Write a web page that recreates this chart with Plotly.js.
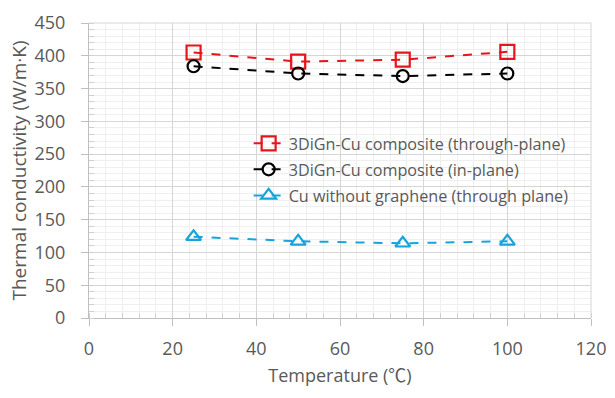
<!DOCTYPE html>
<html><head><meta charset="utf-8">
<script src="https://cdn.plot.ly/plotly-3.0.1.min.js"></script>
<style>body{margin:0;background:#fff}#c{width:615px;height:398px}</style>
</head><body><div id="c"></div>
<script>
const temps = [25, 50, 75, 100];
const throughPlane = [405, 391, 394, 406];
const inPlane = [384, 373, 369, 373];
const cuNoGraphene = [124, 117, 114, 117];
const names = ["3DiGn-Cu composite (through-plane)", "3DiGn-Cu composite (in-plane)", "Cu without graphene (through plane)"];

const font = "'Open Sans', 'Noto Sans CJK KR', sans-serif";
function tr(y, name, color, symbol, size, g) {
  return {x: temps, y: y, name: name, type: 'scatter', mode: 'lines+markers', legendgroup: g,
    line: {color: color, width: 2, dash: 'dash'},
    marker: {symbol: symbol, size: size, color: color, line: {color: color, width: 2.2}}};
}
const data = [
  tr(throughPlane, names[0], '#e8141c', 'square-open', 14, 'a'),
  tr(inPlane, names[1], '#000000', 'circle-open', 12, 'b'),
  tr(cuNoGraphene, names[2], '#17a4dc', 'triangle-up-open', 13, 'c')
];
const layout = {
  width: 615, height: 398,
  margin: {l: 89, r: 24, t: 23, b: 80},
  paper_bgcolor: '#fff', plot_bgcolor: '#fff',
  font: {family: font, color: '#595959', size: 16},
  showlegend: true,
  legend: {x: 0.318, y: 0.65, xanchor: 'left', yanchor: 'top', bgcolor: 'rgba(0,0,0,0)',
    font: {size: 16.2, color: '#595959', family: font}, tracegroupgap: 2, itemwidth: 30},
  xaxis: {range: [0, 120], dtick: 20, tick0: 0, showgrid: true, gridcolor: '#d6d6d6', gridwidth: 1,
    zeroline: false, showline: true, linecolor: '#bfbfbf', ticks: 'outside', ticklen: 7, tickcolor: '#bfbfbf',
    tickfont: {size: 18, color: '#595959'}, ticklabelstandoff: 7,
    minor: {dtick: 4, showgrid: true, gridcolor: '#efefef', ticks: 'inside', ticklen: 5, tickcolor: '#cfcfcf'},
    title: {text: 'Temperature (℃)', font: {size: 18, color: '#595959'}, standoff: 10}},
  yaxis: {range: [0, 450], dtick: 50, tick0: 0, showgrid: true, gridcolor: '#d6d6d6', gridwidth: 1,
    zeroline: false, showline: true, linecolor: '#bfbfbf', ticks: 'outside', ticklen: 7, tickcolor: '#bfbfbf',
    tickfont: {size: 18, color: '#595959'}, ticklabelstandoff: 12,
    minor: {dtick: 10, showgrid: true, gridcolor: '#efefef', ticks: 'inside', ticklen: 5, tickcolor: '#cfcfcf'},
    title: {text: 'Thermal conductivity (W/m·K)', font: {size: 19, color: '#595959'}, standoff: 2}},
  shapes: [{type: 'line', xref: 'paper', yref: 'paper', x0: 1, x1: 1, y0: 0, y1: 1, line: {color: '#d6d6d6', width: 1}},
           {type: 'line', xref: 'paper', yref: 'paper', x0: 0, x1: 1, y0: 1, y1: 1, line: {color: '#d6d6d6', width: 1}}]
};
Plotly.newPlot('c', data, layout, {displayModeBar: false, staticPlot: true});
</script></body></html>
